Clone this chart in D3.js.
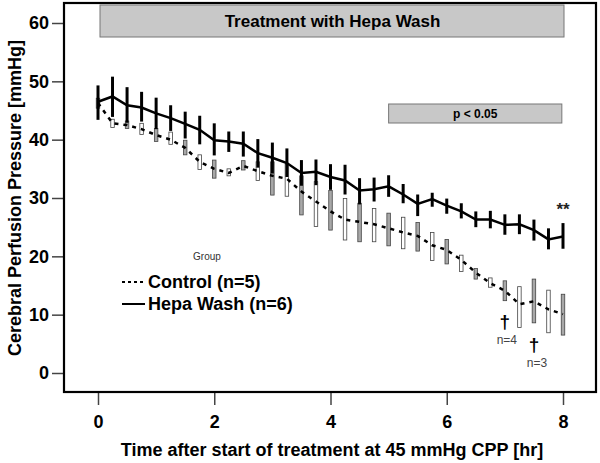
<!DOCTYPE html>
<html><head><meta charset="utf-8">
<script src="https://cdn.jsdelivr.net/npm/d3@7"></script>
<style>body{margin:0;background:#fff}svg{display:block}text{font-family:"Liberation Sans",Arial,sans-serif}</style>
</head><body><svg id="c" width="600" height="463"></svg>
<script>
const times = d3.range(0, 8.001, 0.25);
const controlMean = [46.3,42.8,42.5,41.8,40.8,40.0,38.6,36.2,35.0,34.3,35.5,34.6,33.8,33.3,31.1,29.4,27.7,26.3,25.9,25.5,24.8,24.1,23.5,21.9,21.1,19.4,17.2,15.4,14.1,11.8,12.3,10.9,10.1];
const controlLow  = [45.4,42.1,41.9,40.9,39.7,39.2,37.4,34.9,33.4,33.8,34.8,33.0,30.5,30.3,27.1,25.1,24.5,22.8,22.5,22.5,21.8,21.3,20.9,19.3,18.7,17.4,16.1,14.7,12.4,7.8,8.6,6.9,6.5];
const controlHigh = [47.1,43.5,43.2,42.8,41.9,41.3,39.9,37.4,36.5,35.0,36.4,36.2,36.2,35.8,33.8,32.8,31.3,29.9,29.1,28.2,27.4,26.7,25.8,24.1,22.9,20.2,17.9,16.3,15.8,14.8,16.1,14.2,13.5];
const hepaMean = [46.5,47.4,45.9,45.5,44.5,43.7,42.7,41.7,39.9,39.7,39.3,37.7,36.9,36.0,34.3,34.5,33.6,33.0,31.3,31.5,32.0,30.6,29.0,29.8,28.7,27.7,26.3,26.3,25.4,25.5,24.5,22.9,23.4];
const hepaLow  = [43.4,43.9,42.9,43.1,41.8,41.5,40.2,39.2,37.3,37.9,37.1,35.2,34.2,33.6,32.1,32.2,31.4,30.6,28.9,29.4,30.2,29.1,26.9,28.5,27.3,26.5,25.0,24.8,23.7,23.8,22.7,21.2,21.3];
const hepaHigh = [49.3,50.8,49.0,48.2,47.2,45.9,44.8,44.1,42.8,41.4,41.4,40.1,39.5,38.5,36.5,36.6,35.8,35.7,33.4,33.5,33.9,32.4,30.6,30.9,29.9,29.1,27.7,27.8,27.2,27.2,26.3,24.8,25.7];
const xTicks = [0,2,4,6,8];
const yTicks = [0,10,20,30,40,50,60];
const seriesNames = ["Control (n=5)","Hepa Wash (n=6)"];

const svg = d3.select("#c");
const x = d3.scaleLinear().domain([0,8]).range([98,563]);
const y = d3.scaleLinear().domain([0,60]).range([373,23]);
const F = '"Liberation Sans",Arial,sans-serif';

// treatment bars
svg.append("rect").attr("x",x(0)+2).attr("y",5).attr("width",x(8)-x(0)-1).attr("height",32)
  .attr("fill","#c8c8c8").attr("stroke","#777").attr("stroke-width",1);
svg.append("text").attr("x",(x(0)+x(8))/2+2).attr("y",27).attr("text-anchor","middle")
  .attr("font-size",17).attr("font-weight","bold").attr("fill","#000").text("Treatment with Hepa Wash");
svg.append("rect").attr("x",x(5.0)).attr("y",104).attr("width",x(7.98)-x(5.0)).attr("height",19)
  .attr("fill","#c8c8c8").attr("stroke","#777").attr("stroke-width",1);
svg.append("text").attr("x",(x(5.0)+x(7.98))/2).attr("y",118).attr("text-anchor","middle")
  .attr("font-size",12).attr("font-weight","bold").attr("fill","#000").text("p < 0.05");

// axes
const yAxis = svg.append("g").attr("transform","translate(64,0)")
  .call(d3.axisLeft(y).tickValues(yTicks).tickSize(12).tickPadding(3));
const xAxis = svg.append("g").attr("transform","translate(0,392)")
  .call(d3.axisBottom(x).tickValues(xTicks).tickSize(13).tickPadding(10));
[yAxis,xAxis].forEach(g=>{
  g.select(".domain").remove();
  g.selectAll("line").attr("stroke","#444").attr("stroke-width",1.5);
  g.selectAll("text").attr("font-size",18).attr("font-weight","bold").attr("fill","#000").attr("font-family",F);
});
svg.append("rect").attr("x",64).attr("y",3).attr("width",532).attr("height",389)
  .attr("fill","none").attr("stroke","#000").attr("stroke-width",2.2);

// control boxes
const cdata = times.map((t,i)=>({t,m:controlMean[i],lo:controlLow[i],hi:controlHigh[i],i}));
svg.append("g").selectAll("rect").data(cdata).join("rect")
  .attr("x",d=>x(d.t)-1.75).attr("width",3.5)
  .attr("y",d=>y(d.hi)).attr("height",d=>y(d.lo)-y(d.hi))
  .attr("fill",d=>d.i%2===0?"#a8a8a8":"#fff").attr("stroke","#444").attr("stroke-width",0.8);
svg.append("path").datum(cdata)
  .attr("d",d3.line().x(d=>x(d.t)).y(d=>y(d.m)))
  .attr("fill","none").attr("stroke","#000").attr("stroke-width",2.5).attr("stroke-dasharray","4,5");

// hepa wash
const hdata = times.map((t,i)=>({t,m:hepaMean[i],lo:hepaLow[i],hi:hepaHigh[i]}));
svg.append("g").selectAll("line").data(hdata).join("line")
  .attr("x1",d=>x(d.t)).attr("x2",d=>x(d.t)).attr("y1",d=>y(d.hi)).attr("y2",d=>y(d.lo))
  .attr("stroke","#000").attr("stroke-width",3);
svg.append("path").datum(hdata)
  .attr("d",d3.line().x(d=>x(d.t)).y(d=>y(d.m)))
  .attr("fill","none").attr("stroke","#000").attr("stroke-width",2.5);

// annotations
svg.append("text").attr("x",x(8)).attr("y",215).attr("text-anchor","middle")
  .attr("font-size",17).attr("font-weight","bold").attr("fill","#222").text("**");
svg.append("text").attr("x",x(7)).attr("y",328).attr("text-anchor","middle")
  .attr("font-size",19).attr("font-weight","bold").attr("fill","#000").text("\u2020");
svg.append("text").attr("x",x(7)+2).attr("y",344).attr("text-anchor","middle")
  .attr("font-size",12).attr("fill","#444").text("n=4");
svg.append("text").attr("x",x(7.5)).attr("y",351).attr("text-anchor","middle")
  .attr("font-size",19).attr("font-weight","bold").attr("fill","#000").text("\u2020");
svg.append("text").attr("x",x(7.5)+3).attr("y",367).attr("text-anchor","middle")
  .attr("font-size",12).attr("fill","#444").text("n=3");

// legend
svg.append("text").attr("x",207).attr("y",260).attr("text-anchor","middle")
  .attr("font-size",10).attr("fill","#333").text("Group");
svg.append("line").attr("x1",122).attr("x2",145).attr("y1",282).attr("y2",282)
  .attr("stroke","#000").attr("stroke-width",2).attr("stroke-dasharray","3,3");
svg.append("line").attr("x1",122).attr("x2",145).attr("y1",304).attr("y2",304)
  .attr("stroke","#000").attr("stroke-width",2);
svg.append("text").attr("x",148).attr("y",288).attr("font-size",18).attr("font-weight","bold").attr("fill","#000").text(seriesNames[0]);
svg.append("text").attr("x",148).attr("y",310).attr("font-size",18).attr("font-weight","bold").attr("fill","#000").text(seriesNames[1]);

// titles
svg.append("text").attr("transform","translate(15,198) rotate(-90)").attr("text-anchor","middle")
  .attr("dy","0.35em").attr("font-size",18).attr("font-weight","bold").attr("fill","#000").text("Cerebral Perfusion Pressure [mmHg]");
svg.append("text").attr("x",332).attr("y",456).attr("text-anchor","middle")
  .attr("font-size",18).attr("font-weight","bold").attr("fill","#000").text("Time after start of treatment at 45 mmHg CPP [hr]");
</script></body></html>
